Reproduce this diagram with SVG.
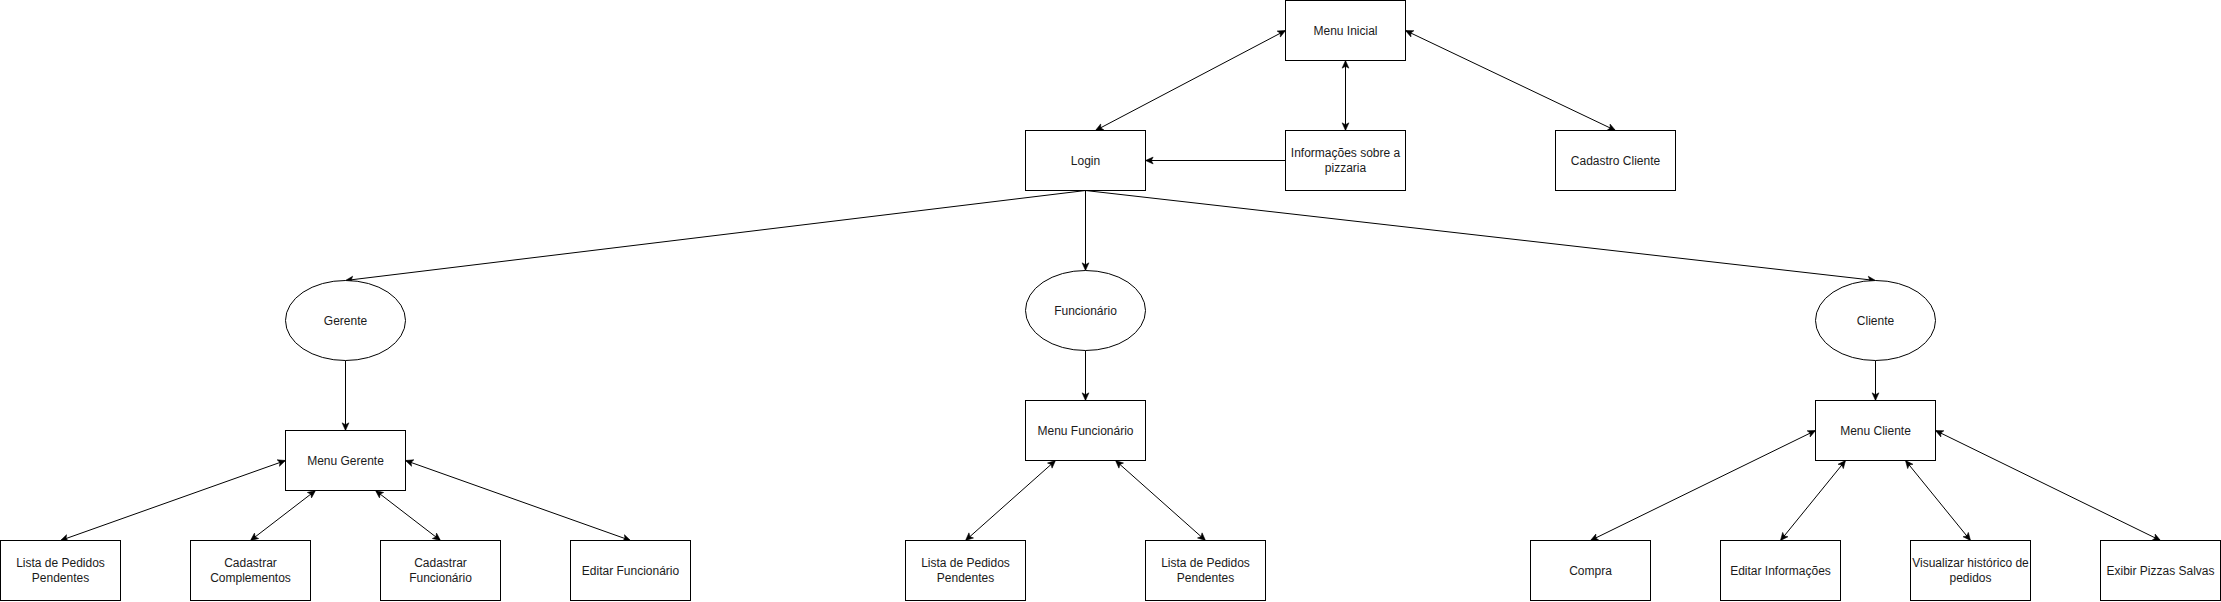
<svg xmlns="http://www.w3.org/2000/svg" width="2221" height="602" viewBox="0 0 2221 602">
<style>
.n{fill:#fff;stroke:#000;stroke-width:1}
.t{font-family:"Liberation Sans",Arial,Helvetica,sans-serif;font-size:12px;fill:#1a1a1a;text-anchor:middle}
.c{fill:none;stroke:#000;stroke-width:1}
.e{marker-end:url(#a)}
.b{marker-start:url(#a);marker-end:url(#a)}
</style>
<defs>
<marker id="a" viewBox="0 0 10 10" refX="9.5" refY="5" markerWidth="9" markerHeight="9" markerUnits="userSpaceOnUse" orient="auto-start-reverse">
<path d="M1,1.2 L9.5,5 L1,8.8 L3,5 Z" fill="#000" stroke="#000" stroke-width="0.6"/>
</marker>
</defs>
<rect width="2221" height="602" fill="#fff"/>
<g id="connectors">
<path class="c b" d="M1285.5,30.5 L1095.5,130.5"/>
<path class="c b" d="M1345.5,60.5 L1345.5,130.5"/>
<path class="c b" d="M1405.5,30.5 L1615.5,130.5"/>
<path class="c e" d="M1285.5,160.5 L1145.5,160.5"/>
<path class="c e" d="M1085.5,190.5 L345.5,280.5"/>
<path class="c e" d="M1085.5,190.5 L1085.5,270.5"/>
<path class="c e" d="M1085.5,190.5 L1875.5,280.5"/>
<path class="c e" d="M345.5,360.5 L345.5,430.5"/>
<path class="c e" d="M1085.5,350.5 L1085.5,400.5"/>
<path class="c e" d="M1875.5,360.5 L1875.5,400.5"/>
<path class="c b" d="M285.5,460.5 L60.5,540.5"/>
<path class="c b" d="M315.5,490.5 L250.5,540.5"/>
<path class="c b" d="M375.5,490.5 L440.5,540.5"/>
<path class="c b" d="M405.5,460.5 L630.5,540.5"/>
<path class="c b" d="M1055.5,460.5 L965.5,540.5"/>
<path class="c b" d="M1115.5,460.5 L1205.5,540.5"/>
<path class="c b" d="M1815.5,430.5 L1590.5,540.5"/>
<path class="c b" d="M1845.5,460.5 L1780.5,540.5"/>
<path class="c b" d="M1905.5,460.5 L1970.5,540.5"/>
<path class="c b" d="M1935.5,430.5 L2160.5,540.5"/>
</g>
<g id="menu-inicial"><rect class="n" x="1285.5" y="0.5" width="120" height="60"/><text class="t" x="1345.5" y="34.5">Menu Inicial</text></g>
<g id="login"><rect class="n" x="1025.5" y="130.5" width="120" height="60"/><text class="t" x="1085.5" y="164.5">Login</text></g>
<g id="informacoes"><rect class="n" x="1285.5" y="130.5" width="120" height="60"/><text class="t" x="1345.5" y="157">Informações sobre a</text><text class="t" x="1345.5" y="172">pizzaria</text></g>
<g id="cadastro-cliente"><rect class="n" x="1555.5" y="130.5" width="120" height="60"/><text class="t" x="1615.5" y="164.5">Cadastro Cliente</text></g>
<g id="gerente"><ellipse class="n" cx="345.5" cy="320.5" rx="60" ry="40"/><text class="t" x="345.5" y="324.5">Gerente</text></g>
<g id="funcionario"><ellipse class="n" cx="1085.5" cy="310.5" rx="60" ry="40"/><text class="t" x="1085.5" y="314.5">Funcionário</text></g>
<g id="cliente"><ellipse class="n" cx="1875.5" cy="320.5" rx="60" ry="40"/><text class="t" x="1875.5" y="324.5">Cliente</text></g>
<g id="menu-gerente"><rect class="n" x="285.5" y="430.5" width="120" height="60"/><text class="t" x="345.5" y="464.5">Menu Gerente</text></g>
<g id="menu-funcionario"><rect class="n" x="1025.5" y="400.5" width="120" height="60"/><text class="t" x="1085.5" y="434.5">Menu Funcionário</text></g>
<g id="menu-cliente"><rect class="n" x="1815.5" y="400.5" width="120" height="60"/><text class="t" x="1875.5" y="434.5">Menu Cliente</text></g>
<g id="g-lista"><rect class="n" x="0.5" y="540.5" width="120" height="60"/><text class="t" x="60.5" y="567">Lista de Pedidos</text><text class="t" x="60.5" y="582">Pendentes</text></g>
<g id="g-complementos"><rect class="n" x="190.5" y="540.5" width="120" height="60"/><text class="t" x="250.5" y="567">Cadastrar</text><text class="t" x="250.5" y="582">Complementos</text></g>
<g id="g-cad-func"><rect class="n" x="380.5" y="540.5" width="120" height="60"/><text class="t" x="440.5" y="567">Cadastrar</text><text class="t" x="440.5" y="582">Funcionário</text></g>
<g id="g-editar-func"><rect class="n" x="570.5" y="540.5" width="120" height="60"/><text class="t" x="630.5" y="574.5">Editar Funcionário</text></g>
<g id="f-lista1"><rect class="n" x="905.5" y="540.5" width="120" height="60"/><text class="t" x="965.5" y="567">Lista de Pedidos</text><text class="t" x="965.5" y="582">Pendentes</text></g>
<g id="f-lista2"><rect class="n" x="1145.5" y="540.5" width="120" height="60"/><text class="t" x="1205.5" y="567">Lista de Pedidos</text><text class="t" x="1205.5" y="582">Pendentes</text></g>
<g id="c-compra"><rect class="n" x="1530.5" y="540.5" width="120" height="60"/><text class="t" x="1590.5" y="574.5">Compra</text></g>
<g id="c-editar"><rect class="n" x="1720.5" y="540.5" width="120" height="60"/><text class="t" x="1780.5" y="574.5">Editar Informações</text></g>
<g id="c-historico"><rect class="n" x="1910.5" y="540.5" width="120" height="60"/><text class="t" x="1970.5" y="567">Visualizar histórico de</text><text class="t" x="1970.5" y="582">pedidos</text></g>
<g id="c-pizzas"><rect class="n" x="2100.5" y="540.5" width="120" height="60"/><text class="t" x="2160.5" y="574.5">Exibir Pizzas Salvas</text></g>
</svg>
